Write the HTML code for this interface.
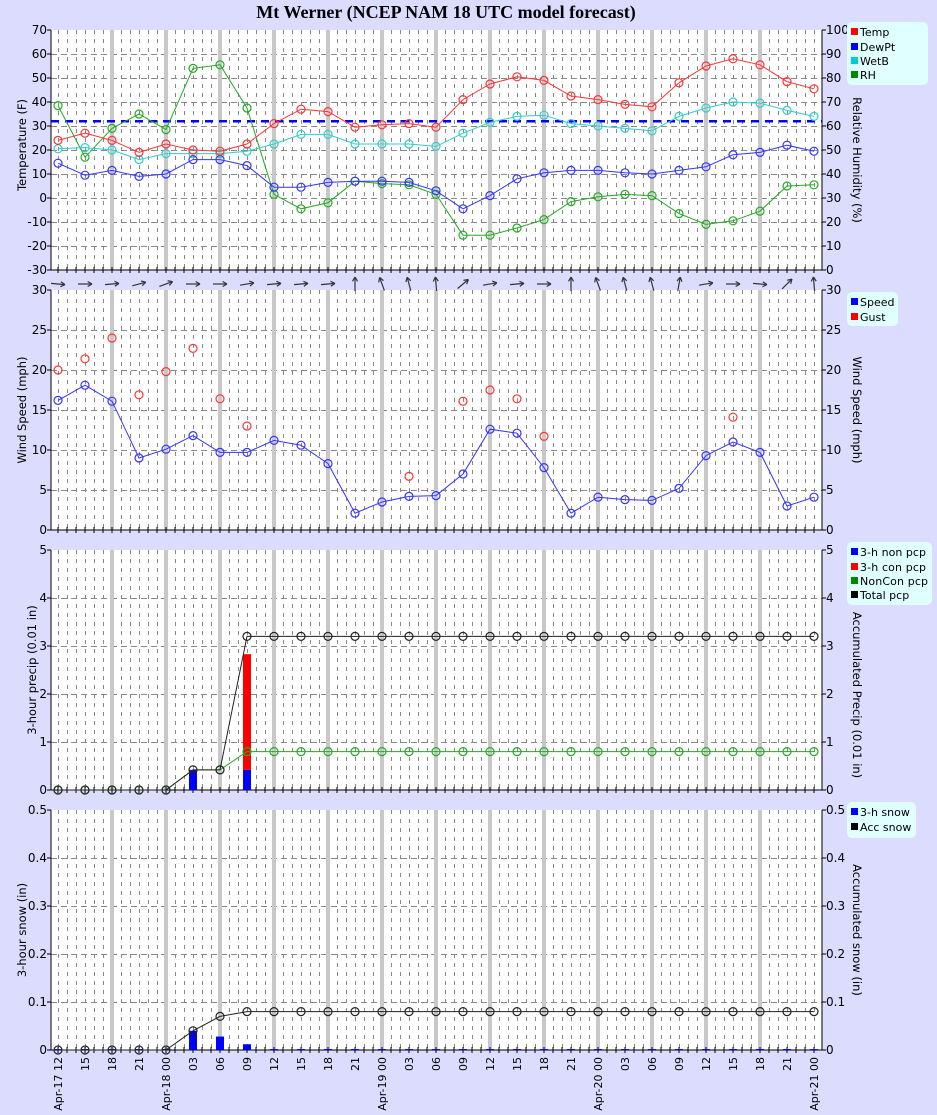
<!DOCTYPE html>
<html><head><meta charset="utf-8"><style>
body{margin:0;background:#dcdcff;}
svg{display:block;font-family:"DejaVu Sans","Liberation Sans",sans-serif;}
</style></head><body>
<svg id="s" width="937" height="1115" xmlns="http://www.w3.org/2000/svg">
<rect width="937" height="1115" fill="#dcdcff"/>
<text x="446" y="18" text-anchor="middle" font-family="Liberation Serif,serif" font-weight="bold" font-size="18">Mt Werner (NCEP NAM 18 UTC model forecast)</text>
<g id="plots"></g>
<g font-size="12" fill="#000">
<g text-anchor="end">
<text x="47" y="34">70</text><text x="47" y="58">60</text><text x="47" y="82">50</text><text x="47" y="106">40</text><text x="47" y="130">30</text><text x="47" y="154">20</text><text x="47" y="178">10</text><text x="47" y="202">0</text><text x="47" y="226">-10</text><text x="47" y="250">-20</text><text x="47" y="274">-30</text>
<text x="47" y="294">30</text><text x="47" y="334">25</text><text x="47" y="374">20</text><text x="47" y="414">15</text><text x="47" y="454">10</text><text x="47" y="494">5</text><text x="47" y="534">0</text>
<text x="47" y="554">5</text><text x="47" y="602">4</text><text x="47" y="650">3</text><text x="47" y="698">2</text><text x="47" y="746">1</text><text x="47" y="794">0</text>
<text x="47" y="814">0.5</text><text x="47" y="862">0.4</text><text x="47" y="910">0.3</text><text x="47" y="958">0.2</text><text x="47" y="1006">0.1</text><text x="47" y="1054">0</text>
</g>
<g text-anchor="start">
<text x="826" y="34">100</text><text x="826" y="58">90</text><text x="826" y="82">80</text><text x="826" y="106">70</text><text x="826" y="130">60</text><text x="826" y="154">50</text><text x="826" y="178">40</text><text x="826" y="202">30</text><text x="826" y="226">20</text><text x="826" y="250">10</text><text x="826" y="274">0</text>
<text x="826" y="294">30</text><text x="826" y="334">25</text><text x="826" y="374">20</text><text x="826" y="414">15</text><text x="826" y="454">10</text><text x="826" y="494">5</text><text x="826" y="534">0</text>
<text x="826" y="554">5</text><text x="826" y="602">4</text><text x="826" y="650">3</text><text x="826" y="698">2</text><text x="826" y="746">1</text><text x="826" y="794">0</text>
<text x="826" y="814">0.5</text><text x="826" y="862">0.4</text><text x="826" y="910">0.3</text><text x="826" y="958">0.2</text><text x="826" y="1006">0.1</text><text x="826" y="1054">0</text>
</g>
<g font-size="11.5">
<text transform="translate(26,145) rotate(-90)" text-anchor="middle">Temperature (F)</text>
<text transform="translate(26,410) rotate(-90)" text-anchor="middle">Wind Speed (mph)</text>
<text transform="translate(36,670) rotate(-90)" text-anchor="middle">3-hour precip (0.01 in)</text>
<text transform="translate(26,930) rotate(-90)" text-anchor="middle">3-hour snow (in)</text>
<text transform="translate(853,160) rotate(90)" text-anchor="middle">Relative Humidity (%)</text>
<text transform="translate(853,410) rotate(90)" text-anchor="middle">Wind Speed (mph)</text>
<text transform="translate(853,695) rotate(90)" text-anchor="middle">Accumulated Precip (0.01 in)</text>
<text transform="translate(853,930) rotate(90)" text-anchor="middle">Accumulated snow (in)</text>
</g>
<g text-anchor="end" font-size="11">
<text transform="translate(62,1057) rotate(-90)">Apr-17 12</text>
<text transform="translate(89,1057) rotate(-90)">15</text>
<text transform="translate(116,1057) rotate(-90)">18</text>
<text transform="translate(143,1057) rotate(-90)">21</text>
<text transform="translate(170,1057) rotate(-90)">Apr-18 00</text>
<text transform="translate(197,1057) rotate(-90)">03</text>
<text transform="translate(224,1057) rotate(-90)">06</text>
<text transform="translate(251,1057) rotate(-90)">09</text>
<text transform="translate(278,1057) rotate(-90)">12</text>
<text transform="translate(305,1057) rotate(-90)">15</text>
<text transform="translate(332,1057) rotate(-90)">18</text>
<text transform="translate(359,1057) rotate(-90)">21</text>
<text transform="translate(386,1057) rotate(-90)">Apr-19 00</text>
<text transform="translate(413,1057) rotate(-90)">03</text>
<text transform="translate(440,1057) rotate(-90)">06</text>
<text transform="translate(467,1057) rotate(-90)">09</text>
<text transform="translate(494,1057) rotate(-90)">12</text>
<text transform="translate(521,1057) rotate(-90)">15</text>
<text transform="translate(548,1057) rotate(-90)">18</text>
<text transform="translate(575,1057) rotate(-90)">21</text>
<text transform="translate(602,1057) rotate(-90)">Apr-20 00</text>
<text transform="translate(629,1057) rotate(-90)">03</text>
<text transform="translate(656,1057) rotate(-90)">06</text>
<text transform="translate(683,1057) rotate(-90)">09</text>
<text transform="translate(710,1057) rotate(-90)">12</text>
<text transform="translate(737,1057) rotate(-90)">15</text>
<text transform="translate(764,1057) rotate(-90)">18</text>
<text transform="translate(791,1057) rotate(-90)">21</text>
<text transform="translate(818,1057) rotate(-90)">Apr-21 00</text>
</g>
</g>
<g font-size="11">
<rect x="847" y="22" width="81" height="63" rx="5" fill="#e0ffff"/>
<rect x="851" y="28" width="7" height="7" fill="#f00"/><text x="860" y="36">Temp</text>
<rect x="851" y="43" width="7" height="7" fill="#00f"/><text x="860" y="51">DewPt</text>
<rect x="851" y="57" width="7" height="7" fill="#0cc"/><text x="860" y="65">WetB</text>
<rect x="851" y="71" width="7" height="7" fill="#080"/><text x="860" y="79">RH</text>
<rect x="847" y="292" width="51" height="34" rx="5" fill="#e0ffff"/>
<rect x="851" y="298" width="7" height="7" fill="#00f"/><text x="860" y="306">Speed</text>
<rect x="851" y="313" width="7" height="7" fill="#f00"/><text x="860" y="321">Gust</text>
<rect x="847" y="542" width="85" height="63" rx="5" fill="#e0ffff"/>
<rect x="851" y="548" width="7" height="7" fill="#00f"/><text x="860" y="556" textLength="66">3-h non pcp</text>
<rect x="851" y="563" width="7" height="7" fill="#f00"/><text x="860" y="571" textLength="66">3-h con pcp</text>
<rect x="851" y="577" width="7" height="7" fill="#080"/><text x="860" y="585" textLength="68">NonCon pcp</text>
<rect x="851" y="591" width="7" height="7" fill="#000"/><text x="860" y="599">Total pcp</text>
<rect x="847" y="802" width="69" height="36" rx="5" fill="#e0ffff"/>
<rect x="851" y="808" width="7" height="7" fill="#00f"/><text x="860" y="816">3-h snow</text>
<rect x="851" y="823" width="7" height="7" fill="#000"/><text x="860" y="831">Acc snow</text>
</g>
</svg>
<script>
var NS="http://www.w3.org/2000/svg",G=document.getElementById("plots");
function el(t,a){var e=document.createElementNS(NS,t);for(var k in a)e.setAttribute(k,a[k]);G.appendChild(e);return e;}
function X(i){return 58+27*i;}
var L=51,R=822;
function panel(top,nLines){
 el("rect",{x:L,y:top,width:R-L,height:240,fill:"#fff"});
 for(var k=0;k<=85;k++){var x=58+9*k;if(x>=R)break;
  el("line",{x1:x+0.5,y1:top,x2:x+0.5,y2:top+240,stroke:"#888","stroke-dasharray":"4,5","stroke-width":1});}
 for(var m=1;m<nLines;m++){var y=top+240*m/nLines;
  el("line",{x1:L,y1:y+0.5,x2:R,y2:y+0.5,stroke:"#888","stroke-dasharray":"6,4","stroke-width":1});}
 for(var i=2;i<=26;i+=2)el("rect",{x:X(i)-2,y:top,width:4,height:240,fill:"#c8c8c8"});
 el("line",{x1:L,y1:top,x2:L,y2:top+240,stroke:"#000"});
 el("line",{x1:R,y1:top,x2:R,y2:top+240,stroke:"#000"});
 el("line",{x1:L,y1:top+240,x2:R,y2:top+240,stroke:"#000"});
 for(var m=0;m<=nLines;m++){var y=top+240*m/nLines;
  el("line",{x1:L-4,y1:y,x2:L,y2:y,stroke:"#000"});el("line",{x1:R,y1:y,x2:R+4,y2:y,stroke:"#000"});}
 for(var k=0;k<=85;k++){var x=58+9*k;if(x>=R)break;
  el("line",{x1:x,y1:top+237,x2:x,y2:top+243,stroke:"#000"});}
}
function series(d,yf,col,line){
 var p=[];d.forEach(function(v,i){if(v!==null)p.push(X(i)+","+yf(v));});
 if(line!==false)el("polyline",{points:p.join(" "),fill:"none",stroke:col,"stroke-width":1});
 d.forEach(function(v,i){if(v!==null){el("circle",{cx:X(i),cy:yf(v),r:4,fill:"none",stroke:col,"stroke-width":1.2});}});
}
panel(30,10);panel(290,6);panel(550,5);panel(810,5);
var y1=function(v){return 30+(70-v)*2.4;};
el("line",{x1:L,y1:y1(32),x2:R,y2:y1(32),stroke:"#00f","stroke-width":2.5,"stroke-dasharray":"8,6"});
var RH=[38.5,17,29,35,28.5,54,55.5,37.5,1.5,-4.5,-2,7,6,5.5,1.5,-15.5,-15.5,-12.5,-9,-1.5,0.5,1.5,1,-6.5,-11,-9.5,-5.5,5,5.5];
var T=[24,27,24,19,22.5,20,19.5,22.5,31,37,36,29.5,30.5,31,29.5,41,47.5,50.5,49,42.5,41,39,38,48,55,58,55.5,48.5,45.5];
var D=[14.5,9.5,11.5,9,10,16,16,13.5,4.5,4.5,6.5,7,7,6.5,3,-4.5,1,8,10.5,11.5,11.5,10.5,10,11.5,13,18,19,22,19.5];
var W=[20.5,21,20,16,18.5,18.5,18.5,19.5,22.5,26.5,26.5,22.5,22.5,22.5,21.5,27,31.5,34,34.5,31,30,29,28,34,37.5,40,39.5,36.5,34];
series(RH,y1,"#2a2");series(W,y1,"#3cc");series(D,y1,"#33f");series(T,y1,"#f33");
var y2=function(v){return 290+(30-v)*8;};
var S=[16.2,18.1,16.1,9,10.1,11.8,9.7,9.7,11.2,10.6,8.3,2.1,3.5,4.2,4.3,7,12.6,12.1,7.8,2.1,4.1,3.8,3.7,5.2,9.3,11,9.7,3,4.1];
var Gu=[];for(var i=0;i<29;i++)Gu.push(null);
var gg={0:20,1:21.4,2:24,3:16.9,4:19.8,5:22.7,6:16.4,7:13,13:6.7,15:16.1,16:17.5,17:16.4,18:11.7,25:14.1};
for(var k in gg)Gu[k]=gg[k];
series(S,y2,"#33f");series(Gu,y2,"#f33",false);
var ang=[-5,0,5,15,20,0,0,10,5,5,5,90,110,105,95,40,10,5,0,90,110,105,105,80,10,0,-5,45,95];
ang.forEach(function(a,i){var r=a*Math.PI/180,cx=X(i),cy=284,l=7;
 var dx=Math.cos(r)*l,dy=-Math.sin(r)*l;
 var x2=cx+dx,y2_=cy+dy;
 el("line",{x1:cx-dx,y1:cy-dy,x2:x2,y2:y2_,stroke:"#333","stroke-width":1.2});
 [150,-150].forEach(function(b){var rb=r+b*Math.PI/180;
  el("line",{x1:x2,y1:y2_,x2:x2+Math.cos(rb)*5,y2:y2_-Math.sin(rb)*5,stroke:"#333","stroke-width":1.2});});
});
var y3=function(v){return 550+(5-v)*48;};
el("rect",{x:X(5)-4,y:y3(0.42),width:8,height:0.42*48,fill:"#00f"});
el("rect",{x:X(7)-4,y:y3(0.42),width:8,height:0.42*48,fill:"#00f"});
el("rect",{x:X(7)-4,y:y3(2.83),width:8,height:(2.83-0.42)*48,fill:"#f00"});
var NC=[0,0,0,0,0,null,0.42],TP=[0,0,0,0,0,0.42,0.42];
for(var i=7;i<29;i++){NC.push(0.8);TP.push(3.2);}
var NCl=NC.slice();NCl[5]=0.42;
el("polyline",{points:NCl.map(function(v,i){return X(i)+","+y3(v);}).slice(4).join(" "),fill:"none",stroke:"#2a2"});
series(NC,y3,"#2a2",false);series(TP,y3,"#222");
var y4=function(v){return 810+(0.5-v)*480;};
var SN={5:0.04,6:0.028,7:0.012};
for(var i=0;i<29;i++){var v=SN[i]||0.002;el("rect",{x:X(i)-4,y:y4(v),width:8,height:v*480,fill:"#00f"});}
var AS=[0,0,0,0,0,0.04,0.07];for(var i=7;i<29;i++)AS.push(0.08);
series(AS,y4,"#222");
</script>
</body></html>
